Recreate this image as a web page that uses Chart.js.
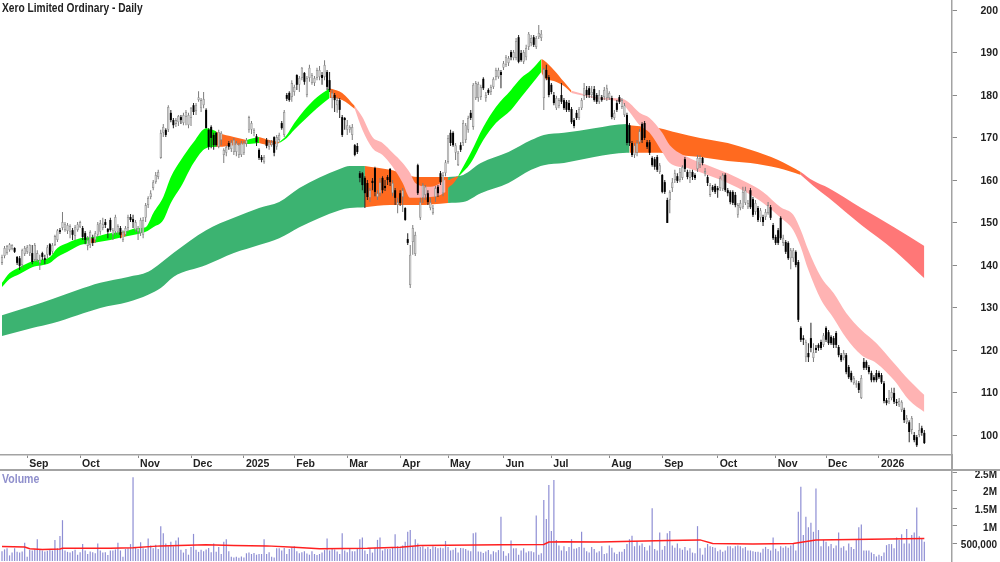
<!DOCTYPE html>
<html><head><meta charset="utf-8">
<script src="https://cdn.jsdelivr.net/npm/chart.js@4/dist/chart.umd.js"></script>
<style>
html,body{margin:0;padding:0;background:#fff;width:1000px;height:562px;overflow:hidden}
canvas{position:absolute;left:0;display:block}
#main{top:0}#vol{top:468px}
.t{position:absolute;font-family:"Liberation Sans",Arial,sans-serif;font-weight:bold;white-space:nowrap;transform-origin:left top}
#title{left:2px;top:1px;font-size:12px;color:#222;transform:scaleX(.85)}
#vlab{left:2px;top:472px;font-size:12px;color:#8f8fcc;transform:scaleX(.88)}
.rule{position:absolute;background:#a3a3a3}
</style></head><body>
<canvas id="main" width="1000" height="470"></canvas>
<canvas id="vol" width="1000" height="94"></canvas>
<div class="t" id="title">Xero Limited Ordinary - Daily</div>
<div class="t" id="vlab">Volume</div>
<div class="rule" style="left:0;top:469px;width:1000px;height:1.5px"></div>
<div class="rule" style="left:951px;top:455px;width:1.5px;height:15px"></div>
<script>
const opens=[140.5,142.1,142.8,143.5,143.8,144,141.9,141.6,140,142.6,
143.1,142.8,142.8,141.2,141.2,140.5,142.8,141.6,142.4,144.9,
143.1,144.7,145.9,148.2,148.7,148.2,148,147.8,148.2,146.8,
148.2,148.9,148.7,147.5,144.5,144.7,146.3,145.9,147.1,147.8,
148.7,150.1,148.5,150.6,147.1,147.8,147.8,148.7,145.9,147.1,
148.7,151.3,150.8,148.2,147.8,147.5,147.1,151.1,154.1,156,
158.1,159.5,160.7,165.2,171.1,171.8,171.8,175.8,174.1,173.2,
173.6,174.8,173.4,174.8,172.9,174.6,177.6,176.2,178.8,176.9,
177.6,176.5,171.8,172.5,170.6,171.1,167.8,169.4,165.9,166.4,
168.7,167.3,166.6,166.6,165.9,165.9,166.4,168.5,171.8,171.8,
171.1,170.3,167.1,165.4,164.2,169.4,167.8,168.2,170.1,167.8,
169.4,173.4,170.6,180,180.5,179.5,180.7,184.7,182.4,184,
185.2,180,184,182.8,182.8,184,184.2,184.7,184.2,185.4,
183.5,179.3,180,177.6,178.8,174.8,174.6,171.8,171.8,170.6,
168.2,168,161.6,161.6,160.5,159.3,155.8,159.8,162.8,156,
156.9,160.5,158.6,160.7,162.6,156.9,157.6,154.1,156.9,156,
153.4,146.1,135.3,145.4,142.6,163.5,151.1,155.8,156.5,156.9,
153.4,152.2,156,158.4,161.6,156.9,161.6,164.2,171.1,171.1,
166.4,163.5,168.2,168.7,169.4,171.8,175.8,172.5,179.3,179.3,
179.5,183.8,179.3,181.2,180.7,181.9,184.2,184.2,185.4,186.4,
187.1,187.5,190.1,188.7,188.7,193.6,189.9,187.8,188.9,191.3,
192.2,193.6,191.3,193.6,193.4,179.3,185.9,184.2,182.4,180,
176.9,177.4,180,178.8,178.4,178.1,176.7,174.1,175.8,174.6,
176.9,179.8,181.2,181.6,180,181.4,180,178.4,179.5,179.5,
179.3,179.3,179.3,174.6,178.1,179.5,177.2,175.3,175.3,172.9,
168.7,165.9,166.4,168.9,173.2,173.4,168.9,168.9,165.2,164.9,
165.4,161.9,161.2,159.5,155.3,155.3,158.1,160,160.9,160,
160.5,164.9,161.9,160.5,161.9,161.2,162.6,163.5,165.2,161.6,
160.7,156.5,158.4,158.6,158.1,158.1,157.9,161.2,157.6,157.2,
157.2,156.5,151.8,153.4,153.6,154.6,153.6,157.6,155.5,152.5,
153.4,151.1,151.3,151.3,152.2,153.6,149.4,146.6,148.2,151.1,
145.2,145.4,145.2,141.6,141.6,143.1,140.7,125.2,122.8,118.3,
119.3,122.8,118.1,120.5,121.2,121.9,121.2,125.2,124.2,123.1,
122.8,124,120.7,118.8,118.1,118.8,116,114.6,112.2,111.8,
112.2,108.7,117.2,117.2,116,114.6,113.6,114.6,114.6,114.1,
112.2,108.2,107.8,108.7,109.9,107.8,107,105.9,105.9,103,
103,101.2,100,99.5,100,101.6,100.5];
const closes=[141.9,144,144.5,144.9,144.7,143.1,140.5,139.8,143.5,144,
144.2,144.7,140.7,144.7,142.8,141.2,141.9,141.2,144.2,142.4,
144.7,146.8,148.2,147.8,150.1,149.6,149.4,149.2,147.1,148.9,
149.6,150.1,146.6,145.9,145.9,147.8,145.2,147.5,149.6,149.9,
149.6,149.4,147.8,148.2,148.2,151.3,149.2,147.1,147.8,148.7,
151.3,150.6,150.1,150.1,148.7,150.6,150.6,154.1,155.8,156.9,
159.5,161.2,161.9,171.1,172.5,170.6,177.2,174.1,172.9,174.1,
175.1,174.1,175.3,176,175.3,176.9,176,177.6,179.5,178.8,
179.1,172.2,167.8,169.9,168.2,168.2,171.3,171.1,167.1,167.8,
167.8,168.9,169.4,168.7,168.2,168.7,168.7,169.4,174.8,173.4,
171.8,168.9,165.2,164.7,165.4,168,168.9,168.9,166.4,170.1,
170.6,172.2,176,179.1,178.8,182.8,181.9,182.4,184,186.4,
183.1,184,186.4,184.7,184,185.9,185.9,184,187.1,181.9,
181.2,180.5,178.8,178.8,176.5,170.6,174.1,172.9,172.5,172.5,
165.9,166.6,160.5,158.8,156.9,156,157.6,159.3,157.2,156.9,
159.5,157.6,158.1,160,159.5,159.3,155.8,154.8,154.6,157.6,
150.6,145.2,142.4,148.7,147.1,156.9,154.8,158.8,158.4,154.8,
154.8,153.4,158.1,156.9,159.5,161.2,164.2,169.9,168.7,168.2,
168.2,166.4,167.1,173.4,172.9,174.6,174.6,182.4,182.8,182.6,
181.9,181.6,180,180.5,181.9,183.8,185.9,185.9,184.7,187.5,
188.9,188.7,188.9,190.1,192.7,187.8,188.2,190.1,191.1,194.4,
193.4,191.8,193.4,194.6,194.4,186.1,184,180,180.7,178.1,
179.3,178.8,178.4,176.9,176.5,176.5,173.6,172.7,174.6,176.7,
178.8,181.6,180,180,180.7,178.8,178.4,180,178.8,181.2,
181.6,180.5,174.8,175.8,176.5,178.4,178.8,177.6,168.7,168.7,
165.9,168.2,168.7,171.5,169.4,169.9,167.8,166.4,163.5,163.1,
162.4,163.5,157.2,157.2,149.9,157.2,159.5,161.6,159.8,161.9,
163.1,162.6,160.7,161.9,160.7,160.5,165.2,165.2,164,162.1,
159.3,158.8,157.6,157.2,157.6,160.5,161.2,157.6,156.9,154.8,
154.6,154.1,154.1,154.6,157.2,157.6,154.6,153.6,151.8,154.6,
150.6,152.9,150.1,152.5,154.1,151.1,146.3,145.2,145.2,146.3,
146.3,143.1,141.6,143.5,143.5,140,127.1,122.4,122.4,121.9,
118.3,120.5,119.5,120,120.5,120.5,123.5,122.4,121.6,121.6,
121.2,121.2,118.8,117.6,119.3,114.8,113.6,112.9,113.4,112.2,
110.6,113.4,115.8,115.8,114.8,112.9,112.9,112.9,113.6,112.4,
108,107.5,108.7,110.1,107.8,107.5,108,107.8,103.5,104,
100.7,104,98.8,97.6,101.2,100.5,98.1];
const highs=[142.4,144.5,144.7,145.2,144.9,144.2,142.1,142.1,143.8,144.5,
144.7,144.9,144.7,145.2,143.5,142.4,143.1,142.4,144.7,145.2,
145.2,147.1,148.5,148.7,152.5,150.1,149.9,149.6,148.7,149.4,
150.1,150.4,149.2,148,146.8,148.2,147.1,148,150.1,150.6,
151.1,150.8,148.7,151.1,148.7,151.8,149.6,149.2,148.2,149.2,
151.8,152,151.8,150.6,149.2,151.1,151.3,154.6,156.2,157.6,
160,161.9,162.4,171.8,173.2,172.2,177.6,176.5,174.6,174.6,
175.3,175.3,175.8,176.5,175.8,177.2,178.1,178.1,180.9,179.3,
180.7,176.9,172.2,172.9,171.1,171.3,171.8,171.5,167.5,168.2,
169.2,169.4,169.9,169.2,168.7,169.2,169.2,169.9,175.1,173.9,
172.2,170.8,167.5,165.9,165.9,169.9,169.4,169.4,170.3,170.6,
171.1,173.9,176.5,180.5,180.9,183.5,182.4,184.9,184.5,186.6,
185.4,184.5,187.1,185.2,184.5,186.4,186.8,185.4,188.2,185.9,
185.4,181.2,180.5,179.5,179.3,175.3,174.8,174.1,172.9,173.2,
168.5,168.7,162.1,161.9,160.9,160,158.1,160.5,163.1,157.6,
160.5,160.9,160,161.2,162.8,160,158.1,155.8,157.6,158.1,
153.6,147.5,144.7,149.4,147.8,163.8,155.8,159.3,158.8,157.6,
155.8,154.1,158.6,158.8,162.1,161.9,164.7,170.6,171.8,171.5,
168.7,166.8,168.9,174.1,173.4,175.1,176.5,182.8,183.3,183.1,
182.4,184.2,180.7,181.6,182.4,184.2,186.4,186.4,185.9,188,
189.4,189.2,190.6,190.6,193.4,194.1,190.6,190.6,191.8,194.8,
194.1,194.1,193.9,196.5,195.3,186.4,187.1,184.7,182.8,180.7,
179.8,179.3,182.8,179.3,178.8,178.8,177.2,174.6,176.5,177.2,
179.3,182.8,182.1,182.1,182.1,182.1,180.5,181.2,180,181.9,
182.4,180.9,179.8,176.5,178.8,180,179.3,178.1,175.8,173.4,
169.2,168.7,169.4,172,173.6,173.9,169.4,169.4,165.6,165.4,
165.9,164,161.4,160,155.8,157.6,160.5,162.4,161.6,162.8,
163.5,165.4,162.4,162.4,162.4,161.6,165.9,165.9,165.4,162.8,
161.2,159.3,158.8,159.1,158.6,160.9,161.6,161.6,158.1,157.6,
157.6,157.2,154.6,155.3,158.4,158.4,155.3,158.1,156,155.3,
153.9,153.4,151.8,153.2,154.8,154.1,149.9,147.1,148.7,151.5,
147.1,145.9,145.6,144,144,143.5,141.2,125.6,123.5,122.4,
121.6,126.4,121.6,121.2,121.6,122.4,124,125.6,124.7,123.5,
123.3,124.5,121.2,119.3,120,119.3,116.5,115.1,113.9,112.9,
112.7,114.1,118.1,117.6,116.5,115.1,114.1,115.3,115.1,114.6,
112.7,108.7,110.6,111.1,111.1,108.5,108.7,108.2,106.4,104.7,
103.5,104.5,100.7,100,102.8,102.2,101.2];
const lows=[140,141.6,142.4,143.1,143.5,142.8,140,138.8,139.3,142.1,
142.6,142.1,140.2,140.7,140.7,138.8,141.2,140.2,141.6,142.1,
142.6,144.5,145.4,147.3,148.2,147.8,147.3,146.3,145.9,145.9,
147.8,148.7,145.9,144.9,143.5,144,144.5,145.2,146.6,147.1,
148.2,148.7,146.3,147.8,145.9,147.1,147.1,146.3,145.4,146.8,
147.8,150.1,148.7,147.8,145.9,146.8,146.3,150.1,153.4,155.5,
157.6,159.1,160.2,165,170.1,170.1,171.3,173.6,172.2,172.5,
172.7,173.2,172.9,172.9,172.2,172.7,175.3,175.3,178.4,176,
176.9,172.2,167.1,167.5,167.1,167.8,167.5,168.2,164,165.6,
167.1,166.6,165.9,165.6,165.2,165.4,165.9,167.8,171.1,170.8,
170.3,168,164.7,164.2,163.8,167.5,167.1,167.8,165.6,167.1,
168.9,171.8,170.1,178.6,178.4,178.4,179.8,181.2,180.7,183.5,
182.4,179.5,183.1,182.4,182.1,183.5,183.5,182.4,183.5,181.2,
180.7,176.9,176,175.8,174.6,170.1,171.8,170.6,171.1,169.4,
165.6,166.1,159.5,157.6,153.4,155.3,154.8,157.6,156.2,155.3,
156.2,156.9,157.4,158.8,158.6,156.2,154.1,152.2,153.9,152.5,
150.4,144.7,134.6,142.4,142.1,156.5,150.6,154.6,155.3,154.1,
152.9,151.8,154.8,156,158.8,156.2,160.9,163.8,168,167.8,
164.7,163.3,166.6,168,168.7,171.1,174.1,171.8,178.8,178.4,
178.8,181.2,178.4,180,180,181.4,183.5,183.8,181.6,185.9,
186.6,186.8,188.2,188.2,188.2,187.5,187.8,187.3,188.2,190.6,
191.5,191.3,190.8,193.2,192.7,176.5,183.5,179.5,180.2,177.6,
176.5,176.9,177.9,176.5,176,176,173.2,172.2,174.1,174.1,
176.5,178.8,179.3,179.3,179.3,178.4,177.9,177.9,178.4,178.8,
178.6,178.8,174.3,174.1,176,177.9,176.7,174.8,168.2,168,
165.4,165.2,165.6,168.5,168.7,169.4,167.3,165.9,163.1,162.4,
161.9,161.4,156.9,156.7,149.9,152.2,157.2,159.3,159.3,159.5,
160,161.9,160.2,159.3,160,160,161.9,162.8,163.5,160.9,
158.6,156,157.2,156.7,155.8,157.4,157.4,157.2,156.2,154.3,
154.1,153.6,151.1,152.9,153.2,154.1,153.2,153.2,151.3,151.8,
150.1,150.1,149.2,150.6,151.8,150.6,145.9,144.7,144.7,145.9,
144.5,142.6,141.2,139,140.7,139.5,126.6,121.9,121.2,117.2,
117.2,119.5,117.2,119.3,119.8,120,120.7,121.9,121.2,121.2,
120.5,120.5,118.3,117.2,117.6,114.3,113.2,112.4,111.8,111.1,
109.9,108.5,115.3,115.3,114.3,112.4,112.4,112.4,113.2,112,
107.5,107,107.3,108.2,107.3,106.8,106.6,105.4,102.8,102.6,
98.3,100.2,98.3,97.2,99.5,99.8,97.9];
const volumes=[.28,.33,.36,.16,.24,.36,.26,.24,.27,.52,
.12,.31,.3,.33,.62,.31,.3,.27,.29,.33,
.3,.6,.36,.71,1.16,.3,.26,.24,.28,.32,
.18,.25,.48,.3,.2,.27,.25,.22,.5,.3,
.24,.25,.17,.3,.3,.33,.52,.3,.12,.34,
.36,.48,2.38,.4,.34,.53,.36,.34,.64,.44,
.36,.46,.34,.99,.79,.5,.42,.55,.42,.58,
.67,.32,.24,.34,.18,.4,.77,.32,.26,.32,
.28,.33,.37,.25,.5,.26,.4,.2,.55,.62,
.28,.12,.1,.12,.09,.13,.1,.22,.24,.2,
.23,.18,.2,.2,.62,.2,.25,.12,.1,.36,
.36,.3,.37,.2,.34,.39,.42,.28,.22,.25,
.28,.21,.18,.28,.2,.17,.2,.24,.31,.64,
.3,.36,.33,.27,.2,.79,.3,.25,.34,.28,
.28,.34,.62,.67,.3,.2,.36,.24,.38,.6,
.67,.3,.35,.34,.34,.4,.76,.42,.36,.44,
.55,.83,.88,.42,.62,.5,.4,.42,.35,.4,
.34,.42,.4,.36,.38,.36,.57,.4,.3,.32,
.38,.24,.37,.36,.34,.3,.28,.79,.81,.27,
.26,.23,.27,.31,.19,.28,.25,.31,1.26,.28,
.15,.22,.58,.36,.36,.18,.3,.36,.24,.28,
.28,.25,1.29,.18,.22,1.73,1.19,2.16,.85,2.3,
.6,.44,.3,.42,.28,.4,.62,.35,.36,.4,
.83,.38,.28,.24,.4,.34,.24,.28,.42,.2,
.22,.44,.38,.24,.2,.26,.26,.34,.48,.62,
.72,.42,.56,.44,.5,.4,.3,.44,1.5,.34,
.3,.81,.32,.43,.79,.85,.44,.38,.5,.36,
.32,.4,.3,.36,.24,.22,.99,.36,.18,.38,
.48,.42,.4,.38,.28,.32,.26,.3,.42,.42,
.36,.42,.44,.42,.36,.4,.3,.3,.28,.26,
.26,.24,.35,.4,.34,.3,.67,.35,.28,.42,
.38,.42,.38,.44,.48,.3,1.4,2.11,.74,1.26,
.96,1.09,.83,2.06,.88,.42,.6,.55,.42,.48,
.36,.44,.81,.38,.42,.3,.5,.4,.34,.6,
.96,1.04,.3,.3,.3,.24,.2,.13,.18,.14,
.24,.45,.48,.48,.36,.67,.6,.76,.5,.91,
.5,.74,.81,1.52,.7,.65,.55];
const volAvgDays=[0,9,11,16,23,24,43,52,63,81,92,105,116,126,145,158,166,198,215,217,223,237,264,277,282,298,314,323,366];
const volAvg=[.41,.4,.35,.33,.34,.36,.36,.38,.43,.46,.44,.43,.39,.35,.36,.39,.44,.46,.47,.54,.55,.54,.58,.6,.5,.48,.5,.6,.64];

const monthTicks=[10,31,54,75,96,116,137,158,177,199,218,241,262,284,307,327,348];
const monthLabels=["Sep","Oct","Nov","Dec","2025","Feb","Mar","Apr","May","Jun","Jul","Aug","Sep","Oct","Nov","Dec","2026"];
const priceTicks=[100,110,120,130,140,150,160,170,180,190,200];
const volTicks=[.5,1,1.5,2,2.5];

// slow (long term) band
const slowGreen1Days=[0,12,20,30,39,50,58,63,68,81,92,102,110,118,134,138,144];
const slowGreen1Top=[128.2,130.4,132,134.1,135.8,137.2,138.4,140.5,142.8,148.2,151.1,153.4,154.8,158.1,162.6,163.3,163.3];
const slowGreen1Bot=[123.3,125.2,126.3,128.2,129.9,131.3,133,134.6,137.2,140,142.8,144.7,146.3,148.9,152.9,153.4,153.6];
const slowOrange1Days=[144,154,165,177];
const slowOrange1Top=[163.3,162.4,160.7,160.7];
const slowOrange1Bot=[153.6,154.1,154.1,154.6];
const slowGreen2Days=[177,183,190,201,210,215,223,235,248,249];
const slowGreen2Top=[160.7,161.2,164,166.6,169.4,170.6,171.1,172.2,173.2,172.9];
const slowGreen2Bot=[154.6,154.8,156.9,159.3,162.4,163.5,164,165.4,166.4,166.4];
const slowOrange2Days=[249,261,268,277,288,297,308,317];
const slowOrange2Top=[172.9,172.2,171.1,169.9,168.7,167.1,164.7,161.9];
const slowOrange2Bot=[166.4,166.4,165.9,165.4,164.5,164,162.8,161.2];
const slowRedDays=[317,322,328,341,354,366];
const slowRedTop=[161.9,159.8,158.1,153.4,148.9,144.5];
const slowRedBot=[161.2,158.6,155.8,149.4,143.5,136.9];

// fast (short term) band
const fastGreen1Days=[0,3,7,12,19,22,26,31,36,43,48,54,57,60,64,67,71,76,81,85];
const fastGreen1Top=[135.8,138.1,139.5,140.9,141.9,144,145.2,146.3,146.6,147.5,147.8,148.7,148.9,152.2,156,160.7,164.7,168.9,172.2,171.5];
const fastGreen1Bot=[134.8,136.7,137.9,139.5,140.5,141.9,143.1,144.7,145.2,145.9,146.6,147.3,147.8,148.9,150.6,154.6,158.4,164,167.5,167.8];
const fastDip1Days=[35,36,37];
const fastDip1Top=[146.2,146.3,146.4];
const fastDip1Bot=[145.2,145.2,145.3];
const fastDip2Days=[47,48,49];
const fastDip2Top=[147.6,147.8,147.9];
const fastDip2Bot=[146.3,146.6,146.9];
const fastOrange1Days=[85,86,92,97];
const fastOrange1Top=[171.5,171.1,170.1,169.4];
const fastOrange1Bot=[167.8,167.8,168.2,168.5];
const fastGreen2Days=[97,98,102];
const fastGreen2Top=[169.4,169.6,170.1];
const fastGreen2Bot=[168.5,168.5,168.7];
const fastOrange2Days=[102,106,110];
const fastOrange2Top=[170.1,169.4,168.9];
const fastOrange2Bot=[168.7,168.2,168.7];
const fastGreen3Days=[110,113,116,120,125,130];
const fastGreen3Top=[168.9,170.6,173.4,176.5,179.5,181.6];
const fastGreen3Bot=[168.7,169.9,171.8,174.1,176.9,179.3];
const fastOrange3Days=[130,131,135,140];
const fastOrange3Top=[181.6,181.4,180.5,177.4];
const fastOrange3Bot=[179.3,179.3,178.8,176.7];
const fastPink1Days=[140,143,147,151,155,159,162,164,170,174,176];
const fastPink1Top=[177.4,174.8,170.1,168.7,166.4,164,161.6,159.3,158.4,159.3,160.2];
const fastPink1Bot=[176.7,171.8,167.5,165.9,163.1,159.3,155.8,155.8,156,156.5,157.2];
const fastOrange4Days=[176,177,179,181];
const fastOrange4Top=[160.2,160,160.5,160.9];
const fastOrange4Bot=[157.2,158.1,159.1,160.7];
const fastGreen4Days=[181,186,191,196,202,206,210,214];
const fastGreen4Top=[160.9,166.4,172.5,177.2,181.2,184,185.9,188.5];
const fastGreen4Bot=[160.7,164,169.4,173.4,176.5,179.5,182.4,185.4];
const fastOrange5Days=[214,215,219,223,226];
const fastOrange5Top=[188.5,188.2,185.9,183.1,181];
const fastOrange5Bot=[185.4,184.2,183.3,182.1,180.5];
const fastPink2Days=[226,231,236,241,246,249,253,257,262,265,272,280,288,296,302,309,314,317,320,325,330,335,341,347,354,360,366];
const fastPink2Top=[181,180.2,179.5,179.3,179.1,178.1,175.8,174.6,171.1,168.2,165.4,163.5,161.6,159.3,157.2,153.6,151.8,148.2,143.5,137.2,133.4,128.7,124.7,121.6,116.9,112.9,109.4];
const fastPink2Bot=[180.5,179.8,179.1,178.8,178.1,176,172.9,171.1,166.6,164,162.8,161.2,159.3,156.9,154.6,151.1,148.2,144.2,138.8,131.8,127.5,122.8,118.8,116.9,112.9,108.2,105.4];

const C={seagreen:'#3cb371',lime:'#00ff00',orange:'#ff6a1f',pink:'#ffb3b3',red:'#ff7777'};
const F='"Liberation Sans",Arial,sans-serif';
const xMin=-2/2.52,xMax=950/2.52;

const datasets=[];
function band(days,top,bot,color,order){
  const base={type:'line',pointRadius:0,borderWidth:0,cubicInterpolationMode:'monotone',order};
  datasets.push({...base,data:days.map((d,k)=>({x:d,y:top[k]})),fill:'+1',backgroundColor:color});
  datasets.push({...base,data:days.map((d,k)=>({x:d,y:bot[k]})),fill:false});
}
band(slowGreen1Days,slowGreen1Top,slowGreen1Bot,C.seagreen,50);
band(slowOrange1Days,slowOrange1Top,slowOrange1Bot,C.orange,50);
band(slowGreen2Days,slowGreen2Top,slowGreen2Bot,C.seagreen,50);
band(slowOrange2Days,slowOrange2Top,slowOrange2Bot,C.orange,50);
band(slowRedDays,slowRedTop,slowRedBot,C.red,50);
band(fastGreen1Days,fastGreen1Top,fastGreen1Bot,C.lime,40);
band(fastDip1Days,fastDip1Top,fastDip1Bot,C.orange,39);
band(fastDip2Days,fastDip2Top,fastDip2Bot,C.orange,39);
band(fastOrange1Days,fastOrange1Top,fastOrange1Bot,C.orange,40);
band(fastGreen2Days,fastGreen2Top,fastGreen2Bot,C.lime,40);
band(fastOrange2Days,fastOrange2Top,fastOrange2Bot,C.orange,40);
band(fastGreen3Days,fastGreen3Top,fastGreen3Bot,C.lime,40);
band(fastOrange3Days,fastOrange3Top,fastOrange3Bot,C.orange,40);
band(fastPink1Days,fastPink1Top,fastPink1Bot,C.pink,40);
band(fastOrange4Days,fastOrange4Top,fastOrange4Bot,C.orange,40);
band(fastGreen4Days,fastGreen4Top,fastGreen4Bot,C.lime,40);
band(fastOrange5Days,fastOrange5Top,fastOrange5Bot,C.orange,40);
band(fastPink2Days,fastPink2Top,fastPink2Bot,C.pink,40);

const isUp=i=>closes[i]>=opens[i];
datasets.push({type:'bar',order:20,grouped:false,barThickness:1,inflateAmount:0,
  data:opens.map((_,i)=>({x:i,y:[lows[i],highs[i]]})),
  backgroundColor:opens.map((_,i)=>isUp(i)?'#7c7c7c':'#222222')});
const upIdx=opens.map((_,i)=>i).filter(isUp), dnIdx=opens.map((_,i)=>i).filter(i=>!isUp(i));
datasets.push({type:'bar',order:10,grouped:false,barThickness:2.4,borderWidth:.8,borderSkipped:false,inflateAmount:0,
  backgroundColor:'#dedede',borderColor:'#909090',
  data:upIdx.map(i=>({x:i,y:[opens[i],closes[i]]}))});
datasets.push({type:'bar',order:9,grouped:false,barThickness:2,borderWidth:0,inflateAmount:0,
  backgroundColor:'#000000',
  data:dnIdx.map(i=>({x:i,y:[closes[i],opens[i]]}))});

new Chart(document.getElementById('main'),{
  type:'bar',
  data:{datasets},
  options:{responsive:false,animation:false,events:[],devicePixelRatio:1,
    layout:{padding:{right:2}},
    plugins:{legend:{display:false},tooltip:{enabled:false},title:{display:false}},
    scales:{
      x:{type:'linear',min:xMin,max:xMax,offset:false,
        afterBuildTicks:s=>{s.ticks=monthTicks.map(v=>({value:v}));},
        afterFit:s=>{s.height=15;s.paddingLeft=0;s.paddingRight=0;},
        border:{color:'#a3a3a3',width:1.5},
        grid:{display:true,drawOnChartArea:false,drawTicks:true,tickLength:3,color:'#8a8a8a',offset:false},
        ticks:{autoSkip:false,maxRotation:0,minRotation:0,align:'start',padding:0,labelOffset:2,color:'#222',font:{family:F,weight:'bold',size:10.5},
          callback:v=>monthLabels[monthTicks.indexOf(v)]}},
      y:{type:'linear',position:'right',min:100-20/4.25,max:100+435/4.25,
        afterBuildTicks:s=>{s.ticks=priceTicks.map(v=>({value:v}));},
        afterFit:s=>{s.width=46;s.paddingTop=0;s.paddingBottom=0;},
        border:{color:'#a3a3a3',width:1.5},
        grid:{display:true,drawOnChartArea:false,drawTicks:true,tickLength:5,color:'#8a8a8a'},
        ticks:{crossAlign:'far',labelOffset:1,color:'#222',font:{family:F,weight:'bold',size:10.5}}}
    }}
});
new Chart(document.getElementById('vol'),{
  type:'bar',
  data:{datasets:[
    {type:'line',order:1,data:volAvgDays.map((d,k)=>({x:d,y:volAvg[k]})),borderColor:'#ff2020',borderWidth:1.5,pointRadius:0,tension:0,fill:false},
    {type:'bar',order:2,grouped:false,barThickness:1.2,inflateAmount:0,backgroundColor:'#8e8ed4',data:volumes.map((v,i)=>({x:i,y:v}))}
  ]},
  options:{responsive:false,animation:false,events:[],devicePixelRatio:1,
    layout:{padding:{right:3}},
    plugins:{legend:{display:false},tooltip:{enabled:false}},
    scales:{
      x:{type:'linear',display:false,min:xMin,max:xMax,offset:false},
      y:{type:'linear',position:'right',min:-0.028,max:2.642,
        afterBuildTicks:s=>{s.ticks=volTicks.map(v=>({value:v}));},
        afterFit:s=>{s.width=45;s.paddingTop=0;s.paddingBottom=0;},
        border:{color:'#a3a3a3',width:1.5},
        grid:{display:true,drawOnChartArea:false,drawTicks:true,tickLength:5,color:'#8a8a8a'},
        ticks:{crossAlign:'far',labelOffset:2,color:'#222',font:{family:F,weight:'bold',size:10},
          callback:v=>v===0.5?'500,000':v+'M'}}
    }}
});
</script>
</body></html>
